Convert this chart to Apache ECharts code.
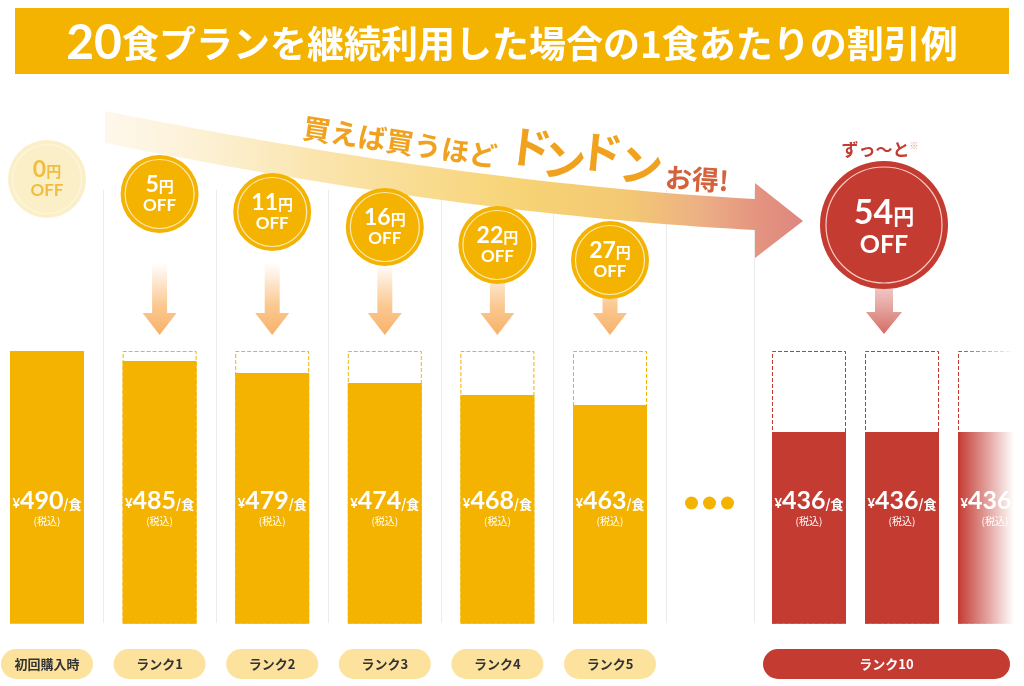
<!DOCTYPE html>
<html><head><meta charset="utf-8">
<script src="https://cdn.jsdelivr.net/npm/echarts@6/dist/echarts.min.js"></script>
<style>html,body{margin:0;padding:0;background:#fff}#c{width:1024px;height:686px}</style>
</head><body><div id="c"></div>
<script>
// ---- data ----
const titleNum = '20';
const titleRest = '食プランを継続利用した場合の1食あたりの割引例';
const ranks = ['初回購入時', 'ランク1', 'ランク2', 'ランク3', 'ランク4', 'ランク5'];
const prices = [490, 485, 479, 474, 468, 463];
const discounts = [0, 5, 11, 16, 22, 27];
const topRankLabel = 'ランク10';
const topRankCols = ['ランク10-a', 'ランク10-b', 'ランク10-c'];
const topRankPrices = [436, 436, 436];
const topRankDiscount = 54;
const basePrice = 490;
const sloganA = '買えば買うほど';
const sloganB = ['ド', 'ン', 'ド', 'ン'];
const sloganC = 'お得!';
const foreverText = 'ずっ〜と';

// ---- style ----
const Y = '#F3B300', R = '#C43B32', PILL = '#FDE29D', DARK = '#333333';
const FONT = '"Noto Sans CJK JP", "Noto Sans", sans-serif';
const NUM = 'Lato, "Noto Sans CJK JP", sans-serif';

const chart = echarts.init(document.getElementById('c'));

const priceLabel = {
  show: true, position: 'insideBottom', distance: 96,
  formatter: p => `{y|¥}{n|${p.value}}{s|/食}\n{t|(税込)}`,
  rich: {
    y: { fontSize: 13, fontWeight: 'bold', color: '#fff', fontFamily: NUM, lineHeight: 26, verticalAlign: 'bottom', padding: [0, 0, 3, 0] },
    n: { fontSize: 25, fontWeight: 'bold', color: '#fff', fontFamily: NUM, lineHeight: 26, verticalAlign: 'bottom' },
    s: { fontSize: 13, fontWeight: 'bold', color: '#fff', fontFamily: FONT, lineHeight: 26, verticalAlign: 'bottom', padding: [0, 0, 3, 0] },
    t: { fontSize: 10, color: '#fff', fontFamily: FONT, lineHeight: 14, align: 'center' }
  }
};

const badgeData = discounts.map((d, i) => i === 0
  ? { value: d, itemStyle: { color: '#FBEFC8' }, label: { color: '#F2BD3F' } }
  : { value: d });
const ringData = discounts.map((d, i) => i === 0
  ? { value: d, itemStyle: { borderColor: '#FEF8E6' } }
  : { value: d });

chart.setOption({
  animation: false,
  title: {
    text: `{a|${titleNum}}{b|${titleRest}}`, left: 'center', top: 18, padding: 0,
    textStyle: { rich: {
      a: { fontSize: 48, fontWeight: 'bold', color: '#fff', fontFamily: NUM, lineHeight: 52 },
      b: { fontSize: 37, fontWeight: 'bold', color: '#fff', fontFamily: FONT, lineHeight: 52 }
    } }
  },
  grid: [
    { left: -9.3, width: 675.6, top: 190, bottom: 63, outerBoundsMode: 'none', containLabel: false },
    { left: 762.5, width: 279, top: 190, bottom: 63, outerBoundsMode: 'none', containLabel: false },
    { left: -9.3, width: 675.6, top: 179, height: 300, outerBoundsMode: 'none', containLabel: false }
  ],
  xAxis: [
    { type: 'category', gridIndex: 0, data: ranks,
      axisLine: { show: false }, axisTick: { show: false },
      splitLine: { show: true, lineStyle: { color: '#ECECEC', width: 1 } },
      axisLabel: { interval: 0, margin: 26, color: DARK, fontSize: 13, fontWeight: 'bold', fontFamily: FONT,
        backgroundColor: PILL, borderRadius: 15, width: 92, height: 30, lineHeight: 30, align: 'center' } },
    { type: 'category', gridIndex: 1, data: topRankCols, show: false },
    { type: 'category', gridIndex: 2, data: ranks, show: false }
  ],
  yAxis: [
    { type: 'value', gridIndex: 0, min: 354, max: 570.5, show: false },
    { type: 'value', gridIndex: 1, min: 308.67, max: 597.33, show: false },
    { type: 'value', gridIndex: 2, min: 0, max: 100, inverse: true, show: false }
  ],
  series: [
    { type: 'bar', xAxisIndex: 0, yAxisIndex: 0, barWidth: 74, barGap: '-100%', silent: true, z: 1,
      data: ranks.map((_, i) => i === 0 ? '-' : basePrice),
      itemStyle: { color: 'rgba(0,0,0,0)', borderColor: Y, borderWidth: 1, borderType: [4, 2] } },
    { type: 'bar', xAxisIndex: 0, yAxisIndex: 0, barWidth: 74, barGap: '-100%', z: 2,
      data: prices, itemStyle: { color: Y, borderColor: Y, borderWidth: 1.5 }, label: priceLabel },
    { type: 'bar', xAxisIndex: 1, yAxisIndex: 1, barWidth: 74, barGap: '-100%', silent: true, z: 1,
      data: topRankPrices.map(() => basePrice),
      itemStyle: { color: 'rgba(0,0,0,0)', borderColor: R, borderWidth: 1, borderType: [4, 2] } },
    { type: 'bar', xAxisIndex: 1, yAxisIndex: 1, barWidth: 74, barGap: '-100%', z: 2,
      data: topRankPrices, itemStyle: { color: R, borderColor: R, borderWidth: 1.5 }, label: priceLabel },
    { type: 'scatter', xAxisIndex: 2, yAxisIndex: 2, symbolSize: 78, clip: false, z: 5,
      data: badgeData, itemStyle: { color: Y, opacity: 1 },
      label: { show: true, position: 'inside', color: '#fff',
        formatter: p => `{n|${p.value}}{u|円}\n{o|OFF}`,
        rich: {
          n: { fontSize: 23, fontWeight: 'bold', fontFamily: NUM, lineHeight: 24, verticalAlign: 'bottom' },
          u: { fontSize: 15, fontWeight: 'bold', fontFamily: FONT, lineHeight: 24, verticalAlign: 'bottom', padding: [0, 0, 2, 0] },
          o: { fontSize: 17, fontWeight: 'bold', fontFamily: NUM, lineHeight: 20, align: 'center' }
        } } },
    { type: 'scatter', xAxisIndex: 2, yAxisIndex: 2, symbolSize: 69, clip: false, silent: true, z: 6,
      data: ringData, itemStyle: { color: 'rgba(0,0,0,0)', borderColor: 'rgba(255,255,255,0.9)', borderWidth: 1.2 } }
  ]
});

// ---- decorations positioned from the axes ----
function quad(p0, c, p1, n) {
  const pts = [];
  for (let k = 0; k <= n; k++) {
    const t = k / n, a = (1 - t) * (1 - t), b = 2 * t * (1 - t), d = t * t;
    pts.push([a * p0[0] + b * c[0] + d * p1[0], a * p0[1] + b * c[1] + d * p1[1]]);
  }
  return pts;
}
const g = [];
g.push({ type: 'rect', z: -1, shape: { x: 15, y: 8, width: 994, height: 66 }, style: { fill: Y } });
const sepX = Math.round(chart.convertToPixel({ xAxisIndex: 1 }, topRankCols[0]) - 55) + 0.5;
g.push({ type: 'line', z: 0, shape: { x1: sepX, y1: 190, x2: sepX, y2: 623 }, style: { stroke: '#ECECEC', lineWidth: 1 } });

// big curved arrow
const topEdge = quad([105, 111], [465, 183], [755, 199], 40);
const botEdge = quad([105, 143], [465, 215], [755, 230], 40).reverse();
const bandPts = topEdge.concat([[755, 183], [803, 221], [755, 258]], botEdge);
g.push({ type: 'polygon', z: 3, shape: { points: bandPts },
  style: { fill: new echarts.graphic.LinearGradient(0, 0, 1, 0, [
    { offset: 0, color: 'rgba(253,243,223,0.6)' },
    { offset: 0.3, color: '#FBE5AE' },
    { offset: 0.6, color: '#F7D375' },
    { offset: 0.75, color: '#F3C873' },
    { offset: 0.86, color: '#ECAE86' },
    { offset: 0.93, color: '#E4957F' },
    { offset: 1, color: '#DE8680' }]) } });

// slogan
g.push({ type: 'text', z: 4, x: 400, y: 142, rotation: -0.15,
  style: { text: sloganA, fill: '#F0A21E', font: `bold 28px ${FONT}`, textAlign: 'center', textVerticalAlign: 'middle' } });
const dd = [[530, 147, -0.12], [564, 160, -0.1], [601, 152, -0.1], [641, 165, -0.1]];
sloganB.forEach((ch, i) => g.push({ type: 'text', z: 4, x: dd[i][0], y: dd[i][1], rotation: dd[i][2],
  style: { text: ch, fill: '#F0A21E', font: `bold 44px ${FONT}`, textAlign: 'center', textVerticalAlign: 'middle' } }));
g.push({ type: 'text', z: 4, x: 697, y: 179, rotation: -0.06,
  style: { text: sloganC, fill: '#D4623A', font: `bold 27px ${FONT}`, textAlign: 'center', textVerticalAlign: 'middle' } });

// down arrows under badges
ranks.forEach((r, i) => {
  if (i === 0) return;
  const cx = chart.convertToPixel({ xAxisIndex: 0 }, r);
  g.push({ type: 'polygon', z: 1,
    shape: { points: [[cx - 7.5, 263], [cx + 7.5, 263], [cx + 7.5, 313], [cx + 17, 313], [cx, 335], [cx - 17, 313], [cx - 7.5, 313]] },
    style: { fill: new echarts.graphic.LinearGradient(0, 0, 0, 1, [
      { offset: 0, color: 'rgba(249,186,116,0)' },
      { offset: 0.6, color: 'rgba(249,186,116,0.8)' },
      { offset: 1, color: '#F8B169' }]) } });
});

// ellipsis dots
const dotX = (chart.convertToPixel({ xAxisIndex: 0 }, ranks[ranks.length - 1]) + chart.convertToPixel({ xAxisIndex: 1 }, topRankCols[0])) / 2;
[-18, 0, 18].forEach(o => g.push({ type: 'circle', z: 2, shape: { cx: dotX + o, cy: 503, r: 6.5 }, style: { fill: Y } }));

// rank 10 badge
const bx = 884, by = 225;
g.push({ type: 'circle', z: 5, shape: { cx: bx, cy: by, r: 64 }, style: { fill: R } });
g.push({ type: 'circle', z: 6, shape: { cx: bx, cy: by, r: 58 }, style: { fill: 'none', stroke: 'rgba(255,220,210,0.9)', lineWidth: 1.2 } });
g.push({ type: 'text', z: 7, x: bx, y: by + 3,
  style: { text: `{n|${topRankDiscount}}{u|円}\n{o|OFF}`, textAlign: 'center', textVerticalAlign: 'middle',
    rich: {
      n: { fontSize: 34, fontWeight: 'bold', fill: '#fff', fontFamily: NUM, lineHeight: 34, verticalAlign: 'bottom' },
      u: { fontSize: 21, fontWeight: 'bold', fill: '#fff', fontFamily: FONT, lineHeight: 34, verticalAlign: 'bottom', padding: [0, 0, 3, 0] },
      o: { fontSize: 25, fontWeight: 'bold', fill: '#fff', fontFamily: NUM, lineHeight: 30, align: 'center' }
    } } });
g.push({ type: 'text', z: 7, x: bx - 4, y: 150,
  style: { text: `{a|${foreverText}}{b|※}`, textAlign: 'center', textVerticalAlign: 'middle',
    rich: { a: { fontSize: 17, fontWeight: 'bold', fill: R, fontFamily: FONT }, b: { fontSize: 9, fill: '#E39A95', fontFamily: FONT, verticalAlign: 'top' } } } });
g.push({ type: 'polygon', z: 4,
  shape: { points: [[bx - 9, 289], [bx + 9, 289], [bx + 9, 312], [bx + 18, 312], [bx, 334], [bx - 18, 312], [bx - 9, 312]] },
  style: { fill: new echarts.graphic.LinearGradient(0, 0, 0, 1, [
    { offset: 0, color: 'rgba(222,140,135,0.5)' }, { offset: 1, color: '#D46A62' }]) } });

// rank 10 pill
g.push({ type: 'rect', z: 5, shape: { x: 763, y: 649, width: 247, height: 30, r: 15 }, style: { fill: R } });
g.push({ type: 'text', z: 6, x: 886.5, y: 664,
  style: { text: topRankLabel, fill: '#fff', font: `bold 13px ${FONT}`, textAlign: 'center', textVerticalAlign: 'middle' } });

// fade out the last column
g.push({ type: 'rect', z: 50, shape: { x: 958, y: 340, width: 66, height: 290 },
  style: { fill: new echarts.graphic.LinearGradient(0, 0, 1, 0, [
    { offset: 0, color: 'rgba(255,255,255,0)' }, { offset: 0.85, color: 'rgba(255,255,255,1)' }, { offset: 1, color: '#fff' }]) } });

chart.setOption({ graphic: { elements: g } });
</script>
</body></html>
